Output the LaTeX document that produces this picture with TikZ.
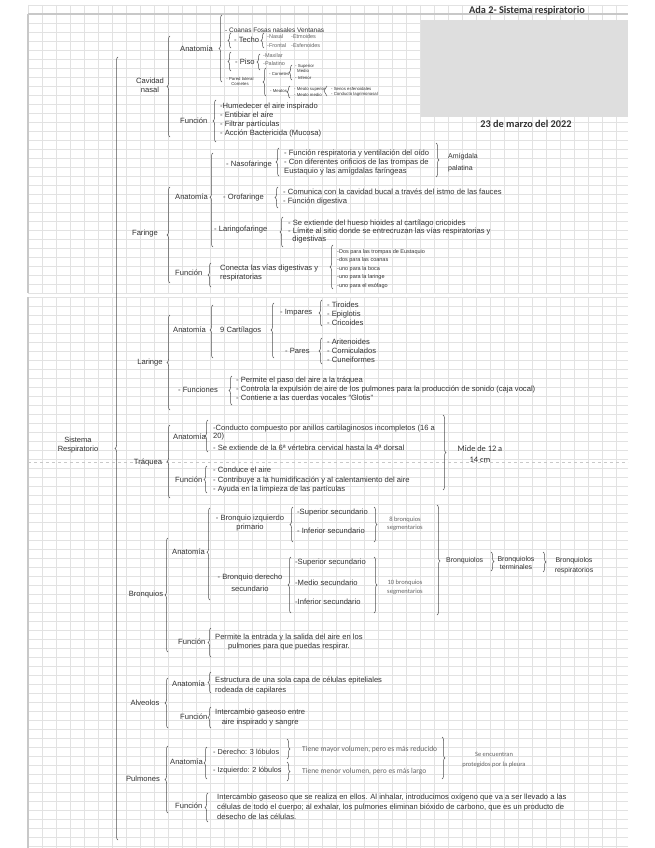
\documentclass[tikz,border=0pt]{standalone}
\usepackage{fontspec}
\setmainfont{Liberation Sans}
\newfontfamily\calibri{Carlito}
\usepackage{tikz}
\usetikzlibrary{decorations.pathreplacing}
\definecolor{InkGray}{RGB}{50,50,50}
\definecolor{BraceGray}{RGB}{80,80,80}
\definecolor{NoteGray}{RGB}{100,100,100}
\definecolor{GridGray}{RGB}{226,226,226}
\definecolor{EdgeGray}{RGB}{200,200,200}
\definecolor{PhotoGray}{RGB}{222,222,222}
\tikzset{
  txt/.style={font=\fontsize{7.6}{9}\selectfont, text=InkGray, inner sep=0pt, anchor=west, align=left},
  lbl/.style={txt, anchor=center, align=center},
  sml/.style={txt, font=\fontsize{5.5}{8}\selectfont, text=NoteGray},
  tny/.style={txt, font=\fontsize{4.3}{5}\selectfont},
  note/.style={txt, font=\calibri\fontsize{7.5}{9}\selectfont, text=NoteGray},
  ttl/.style={font=\calibri\bfseries\fontsize{10.3}{12}\selectfont, text=InkGray, inner sep=0pt},
  brc/.style={decorate, decoration={brace, amplitude=3pt}, draw=BraceGray, line width=0.5pt},
  gridline/.style={GridGray, line width=0.5pt}
}
\newcommand{\bracel}[4][0.5]{\draw[brc, decoration={aspect=#1}] (#2,#4) -- (#2,#3);}
\newcommand{\bracer}[4][0.5]{\draw[brc, decoration={aspect=#1}] (#2,#3) -- (#2,#4);}

\begin{document}
\begin{tikzpicture}[x=1pt,y=-1pt]
  \useasboundingbox (0,0) rectangle (655,848);
  \fill[white] (0,0) rectangle (655,848);
  \foreach \gx in {28,42,...,628} \draw[gridline] (\gx,5) -- (\gx,293);
  \foreach \gy in {5,14,...,293} \draw[gridline] (28,\gy) -- (628,\gy);
  \foreach \gx in {28,42,...,628} \draw[gridline] (\gx,297) -- (\gx,848);
  \foreach \gy in {297,306,...,848} \draw[gridline] (28,\gy) -- (628,\gy);
  \draw[EdgeGray, line width=1.2pt] (28,14) -- (28,293);
  \draw[EdgeGray, line width=1.2pt] (28,14) -- (628,14);
  \draw[EdgeGray, line width=1.2pt] (28,297) -- (28,848);
  \draw[EdgeGray, dashed, line width=0.8pt] (28,462) -- (628,462);

  \node[ttl] (titulo) at (527,11) {Ada 2- Sistema respiratorio};
  \fill[PhotoGray] (421,20) rectangle (628,117);
  \node[ttl] (fecha) at (526,124) {23 de marzo del 2022};

  \bracel{118}{57}{840}
  \node[lbl, font=\fontsize{7.5}{9}\selectfont] (sistema) at (78,445) {Sistema\\Respiratorio};

  % cavidad nasal
  \node[lbl] (cavidad) at (150,85.5) {Cavidad\\nasal};
  \bracel{170}{36}{137}
  \node[txt] (cnAnat) at (180,49) {Anatomía};
  \bracel{222}{15}{82}
  \node[txt, font=\fontsize{6.5}{7}\selectfont] (septo) at (225,30) {- Coanas  Fosas nasales  Ventanas};
  \bracel{231}{33}{48}
  \node[txt] (techo) at (234,40) {- Techo};
  \bracel{264}{33}{48}
  \node[sml] (nasal) at (267,37) {-Nasal};
  \node[sml] (frontal) at (267,46) {-Frontal};
  \node[sml] (etmoides) at (291,37) {-Etmoides};
  \node[sml] (esfenoides) at (291,46) {-Esfenoides};
  \bracel{231}{52}{71}
  \node[txt] (piso) at (235,62) {- Piso};
  \bracel{260}{54}{70}
  \node[sml] (maxilar) at (263,56) {-Maxilar};
  \node[sml] (palatino) at (263,64) {-Palatino};
  \node[tny, align=center, anchor=center] (pared) at (240,81) {- Pared lateral\\Cornetes};
  \bracel{266}{68}{96}
  \node[tny] (cornetes) at (269,74) {- Cornetes};
  \bracel{292}{65}{80}
  \node[tny] (csup) at (295,66) {- Superior};
  \node[tny] (cmed) at (297,71) {Medio};
  \node[tny] (cinf) at (295,78) {- Inferior};
  \node[tny] (meatos) at (270,91) {- Meatos};
  \bracel{290}{86}{98}
  \node[tny] (msup) at (294,89) {- Meato superior};
  \node[tny] (mmed) at (294,95) {- Meato medio};
  \bracel{327}{86}{96}
  \node[tny] (senos) at (331,89) {- Senos esfenoidales};
  \node[tny] (lagrimal) at (331,94) {- Conducto lagrimonasal};
  \node[txt] (cnFunc) at (180,121) {Función};
  \bracel{216}{100}{142}
  \node[txt] (cnItems) at (220,120.5) {-Humedecer el aire inspirado\\- Entibiar el aire\\- Filtrar partículas\\- Acción Bactericida (Mucosa)};

  % faringe
  \node[lbl] (faringe) at (145,234) {Faringe};
  \bracel{170}{187}{283}
  \node[txt] (fAnat) at (175,197) {Anatomía};
  \bracel[0.53]{213}{153}{247}
  \node[txt] (naso) at (226,165) {- Nasofaringe};
  \bracel{279}{148}{176}
  \node[txt] (nasoItems) at (284,162.5) {- Función respiratoria y ventilación del oído\\- Con diferentes orificios de las trompas de\\Eustaquio y las amígdalas faríngeas};
  \bracer{436}{143}{177}
  \node[txt, font=\fontsize{7}{12}\selectfont] (amigdala) at (448,163) {Amígdala\\palatina};
  \node[txt] (oro) at (223,198) {- Orofaringe};
  \bracel{278}{187}{208}
  \node[txt] (oroItems) at (283,197) {- Comunica con la cavidad bucal a través del istmo de las fauces\\- Función digestiva};
  \node[txt] (laringo) at (214,230) {- Laringofaringe};
  \bracel{283}{217}{247}
  \node[txt, font=\fontsize{7.6}{8}\selectfont] (laringoItems) at (288,231) {- Se extiende del hueso hioides al cartílago cricoides\\- Límite al sitio donde se entrecruzan las vías respiratorias y\\\ \ digestivas};
  \node[txt] (fFunc) at (175,273) {Función};
  \bracel{211}{263}{287}
  \node[txt] (fFuncTxt) at (220,272.5) {Conecta las vías digestivas y\\respiratorias};
  \bracel{333}{245}{289}
  \node[txt, font=\fontsize{5.5}{8.5}\selectfont] (orificios) at (337,269) {-Dos para las trompas de Eustaquio\\-dos para las coanas\\-uno para la boca\\-uno para la laringe\\-uno para el esófago};

  % laringe
  \node[lbl] (laringe) at (150,363) {Laringe};
  \bracel{170}{315}{410}
  \node[txt] (lAnat) at (173,330) {Anatomía};
  \bracel[0.53]{213}{305}{358}
  \node[txt] (cartilagos) at (220,330) {9 Cartílagos};
  \bracel[0.51]{274}{303}{358}
  \node[txt] (impares) at (280,313) {- Impares};
  \bracel{322}{300}{326}
  \node[txt] (impItems) at (327,314) {- Tiroides\\- Epiglotis\\- Cricoides};
  \node[txt] (pares) at (285,351) {- Pares};
  \bracel{322}{338}{364}
  \node[txt] (parItems) at (327,351) {- Aritenoides\\- Corniculados\\- Cuneiformes};
  \node[txt] (lFunc) at (178,390) {- Funciones};
  \bracel{232}{376}{405}
  \node[txt] (lFuncItems) at (236,389) {- Permite el paso del aire a la tráquea\\- Controla la expulsión de aire de los pulmones para la producción de sonido (caja vocal)\\- Contiene a las cuerdas vocales "Glotis"};

  % traquea
  \node[lbl] (traquea) at (148,462) {Tráquea};
  \bracel{170}{425}{498}
  \node[txt] (tAnat) at (173,437) {Anatomía};
  \bracel{208}{420}{452}
  \node[txt, font=\fontsize{7.6}{8}\selectfont] (anillos) at (213,433) {-Conducto compuesto por anillos cartilaginosos incompletos (16 a\\20)};
  \node[txt] (vertebra) at (213,448) {- Se extiende de la 6ª vértebra cervical hasta la 4ª dorsal};
  \node[txt] (tFunc) at (175,480) {Función};
  \bracel{207}{466}{493}
  \node[txt, font=\fontsize{7.6}{9.5}\selectfont] (tFuncItems) at (213,480.5) {- Conduce el aire\\- Contribuye a la humidificación y al calentamiento del aire\\- Ayuda en la limpieza de las partículas};
  \bracer{443}{415}{490}
  \node[lbl, font=\calibri\fontsize{8.4}{11}\selectfont] (mide) at (480,454.5) {Mide de 12 a\\14 cm};

  % bronquios
  \node[lbl] (bronquios) at (146,595) {Bronquios};
  \bracel{168}{538}{652}
  \node[txt] (bAnat) at (172,552) {Anatomía};
  \bracel[0.52]{210}{508}{600}
  \node[lbl] (izquierdo) at (250,523.5) {- Bronquio izquierdo\\primario};
  \bracel{293}{507}{542}
  \node[txt] (izqSup) at (297,513) {-Superior secundario};
  \node[txt] (izqInf) at (297,531) {- Inferior secundario};
  \bracer{374}{507}{542}
  \node[lbl, font=\calibri\fontsize{6.5}{8}\selectfont, text=NoteGray] (ocho) at (405,524) {8 bronquios\\segmentarios};
  \node[lbl, font=\fontsize{7.6}{12}\selectfont] (derecho) at (250,583) {- Bronquio derecho\\secundario};
  \bracel{291}{557}{613}
  \node[txt] (derSup) at (295,563) {-Superior secundario};
  \node[txt] (derMed) at (295,583) {-Medio secundario};
  \node[txt] (derInf) at (295,602) {-Inferior secundario};
  \bracer{374}{557}{613}
  \node[lbl, font=\calibri\fontsize{6.5}{9}\selectfont, text=NoteGray] (diez) at (405,587.5) {10 bronquios\\segmentarios};
  \bracer[0.51]{437}{505}{615}
  \node[txt, font=\fontsize{7}{9}\selectfont] (bronquiolos) at (446,561) {Bronquiolos};
  \bracer{491}{552}{571}
  \node[lbl, font=\fontsize{7}{8}\selectfont] (terminales) at (516,563) {Bronquiolos\\terminales};
  \bracer{543}{552}{572}
  \node[lbl, font=\fontsize{7}{10}\selectfont] (respiratorios) at (574,566) {Bronquiolos\\respiratorios};
  \node[txt] (bFunc) at (178,642) {Función};
  \bracel{211}{628}{657}
  \node[txt, align=center] (bFuncTxt) at (215,642.5) {Permite la entrada y la salida del aire en los\\pulmones para que puedas respirar.};

  % alveolos
  \node[lbl] (alveolos) at (145,703) {Alveolos};
  \bracel{168}{678}{728}
  \node[txt] (aAnat) at (172,684) {Anatomía};
  \bracel{211}{672}{693}
  \node[txt, font=\fontsize{7.6}{10}\selectfont] (aAnatTxt) at (215,685) {Estructura de una sola capa de células epiteliales\\rodeada de capilares};
  \node[txt] (aFunc) at (180,717) {Función};
  \bracel{211}{707}{728}
  \node[txt, align=center, font=\fontsize{7.6}{10}\selectfont] (aFuncTxt) at (215,718) {Intercambio gaseoso entre\\aire inspirado y sangre};

  % pulmones
  \node[lbl] (pulmones) at (143,779) {Pulmones};
  \bracel{168}{746}{813}
  \node[txt] (pAnat) at (170,762) {Anatomía};
  \bracel{207}{747}{779}
  \node[txt, font=\fontsize{7.3}{9}\selectfont] (derechoP) at (213,752) {- Derecho: 3 lóbulos};
  \bracer{287}{739}{759}
  \node[note] (mayor) at (302,749) {Tiene mayor volumen, pero es más reducido};
  \node[txt, font=\fontsize{7.3}{9}\selectfont] (izquierdoP) at (213,771) {- Izquierdo: 2 lóbulos};
  \bracer{287}{762}{781}
  \node[note] (menor) at (302,772) {Tiene menor volumen, pero es más largo};
  \bracer{442}{737}{779}
  \node[lbl, font=\calibri\fontsize{6.5}{10}\selectfont, text=NoteGray] (pleura) at (494,760) {Se encuentran\\protegidos por la pleura};
  \node[txt] (pFunc) at (175,806) {Función};
  \bracel{208}{793}{822}
  \node[txt, font=\fontsize{7.6}{10}\selectfont] (pFuncTxt) at (217,807) {Intercambio gaseoso que se realiza en ellos. Al inhalar, introducimos oxígeno que va a ser llevado a las\\células de todo el cuerpo; al exhalar, los pulmones eliminan bióxido de carbono, que es un producto de\\desecho de las células.};
\end{tikzpicture}
\end{document}
